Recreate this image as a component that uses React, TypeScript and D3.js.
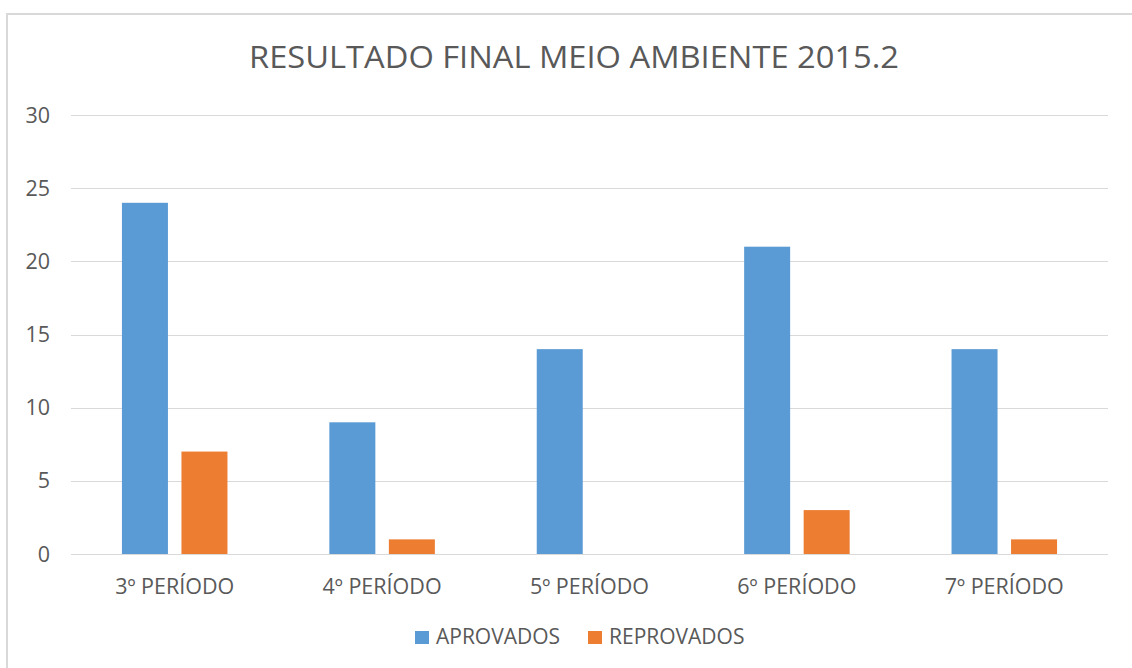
import React from "react";
import * as d3 from "d3";

const title = "RESULTADO FINAL MEIO AMBIENTE 2015.2";
const categories = ["3º PERÍODO", "4º PERÍODO", "5º PERÍODO", "6º PERÍODO", "7º PERÍODO"];
const seriesNames = ["APROVADOS", "REPROVADOS"];
const aprovados = [24, 9, 14, 21, 14];
const reprovados = [7, 1, 0, 3, 1];
const yTicks = [0, 5, 10, 15, 20, 25, 30];
const colors = ["#5B9BD5", "#ED7D31"];

const W = 1132;
const H = 668;
const left = 71;
const right = 1108;
const top = 115;
const bottom = 554;
const textColor = "#595959";
const grid = "#D9D9D9";
const font = "'Open Sans', 'Noto Sans', sans-serif";

export default function App() {
  const values = [aprovados, reprovados];
  const x0 = d3.scaleBand<string>().domain(categories).range([left, right]).paddingInner(0).paddingOuter(0);
  const x1 = d3
    .scaleBand<string>()
    .domain(seriesNames)
    .range([0, x0.bandwidth()])
    .paddingInner(0.227)
    .paddingOuter(0.856);
  const y = d3.scaleLinear().domain([0, 30]).range([bottom, top]);

  const legendItems = [
    { name: seriesNames[0], color: colors[0], x: 415 },
    { name: seriesNames[1], color: colors[1], x: 588 },
  ];

  return (
    <div style={{ position: "absolute", left: 0, top: 0 }}>
      <svg width={W} height={H} style={{ display: "block", background: "#fff" }}>
        <rect x={7} y={14} width={W + 20} height={H + 20} fill="#fff" stroke={grid} strokeWidth={2} />
        <text
          x={574}
          y={68}
          textAnchor="middle"
          fontFamily={font}
          fontSize={31}
          fill={textColor}
          textLength={650}
          lengthAdjust="spacingAndGlyphs"
        >
          {title}
        </text>
        {yTicks.map((t) => (
          <g key={t}>
            <line x1={left} x2={right} y1={Math.round(y(t)) + 0.5} y2={Math.round(y(t)) + 0.5} stroke={grid} strokeWidth={1} />
            <text x={50} y={y(t) + 7.5} textAnchor="end" fontFamily={font} fontSize={21.5} fill={textColor}>
              {t}
            </text>
          </g>
        ))}
        {categories.map((c, i) => (
          <g key={c}>
            {seriesNames.map((s, j) => {
              const v = values[j][i];
              if (v <= 0) return null;
              return (
                <rect
                  key={s}
                  x={(x0(c) as number) + (x1(s) as number)}
                  y={y(v)}
                  width={x1.bandwidth()}
                  height={y(0) - y(v)}
                  fill={colors[j]}
                />
              );
            })}
            <text
              x={(x0(c) as number) + x0.bandwidth() / 2}
              y={593.5}
              textAnchor="middle"
              fontFamily={font}
              fontSize={21.5}
              fill={textColor}
            >
              {c}
            </text>
          </g>
        ))}
        {legendItems.map((l) => (
          <g key={l.name}>
            <rect x={l.x} y={631} width={14} height={13} fill={l.color} />
            <text x={l.x + 21} y={643.5} fontFamily={font} fontSize={21} fill={textColor}>
              {l.name}
            </text>
          </g>
        ))}
      </svg>
    </div>
  );
}
